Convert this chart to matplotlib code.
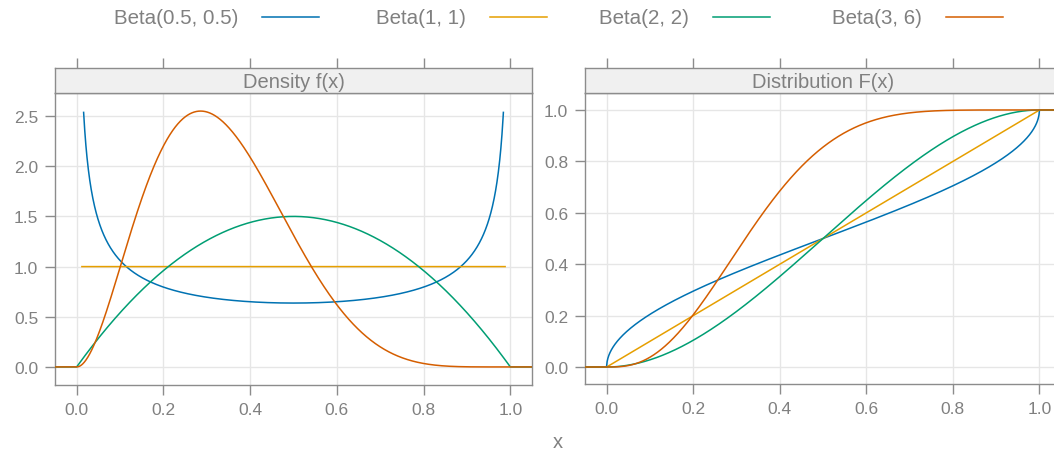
import math
import numpy as np
import matplotlib
matplotlib.use("Agg")
import matplotlib.pyplot as plt
from matplotlib.lines import Line2D
from matplotlib.ticker import FormatStrFormatter

# Beta distribution parameters and labels
labels = ["Beta(0.5, 0.5)", "Beta(1, 1)", "Beta(2, 2)", "Beta(3, 6)"]
alpha = [0.5, 1, 2, 3]
beta = [0.5, 1, 2, 6]
colors = ["#0072B2", "#E69F00", "#009E73", "#D55E00"]

# x-range over which each density curve is drawn
density_from = [0.016, 0.012, -0.05, -0.05]
density_to = [0.984, 0.988, 1.05, 1.05]
cdf_from = -0.05
cdf_to = 1.05

panel_titles = ["Density f(x)", "Distribution F(x)"]
x_ticks = [0.0, 0.2, 0.4, 0.6, 0.8, 1.0]
density_ticks = [0.0, 0.5, 1.0, 1.5, 2.0, 2.5]
cdf_ticks = [0.0, 0.2, 0.4, 0.6, 0.8, 1.0]

GRAY = "#808080"
FRAME = "#8c8c8c"
GRID = "#e6e6e6"
STRIP = "#f0f0f0"
plt.rcParams["font.family"] = ["Liberation Sans", "DejaVu Sans"]


def beta_fn(a, b):
    return math.gamma(a) * math.gamma(b) / math.gamma(a + b)


def beta_pdf(x, a, b):
    out = np.zeros_like(x)
    inside = (x > 0) & (x < 1)
    xi = x[inside]
    out[inside] = xi ** (a - 1) * (1 - xi) ** (b - 1) / beta_fn(a, b)
    if a == 1 and b == 1:
        out[(x >= 0) & (x <= 1)] = 1.0
    return out


def beta_cdf(x, a, b):
    # integrate with x = sin^2(t) to remove endpoint singularities
    t = np.linspace(0, np.pi / 2, 40001)
    s, c = np.sin(t), np.cos(t)
    f = 2 * s ** (2 * a - 1) * c ** (2 * b - 1) / beta_fn(a, b)
    cum = np.concatenate([[0], np.cumsum((f[1:] + f[:-1]) / 2 * np.diff(t))])
    cum /= cum[-1]
    return np.interp(np.clip(x, 0, 1), s ** 2, cum)


W, H = 1054, 456
fig = plt.figure(figsize=(W / 100, H / 100), dpi=100)


def px_axes(x0, y0, x1, y1):
    return fig.add_axes([x0 / W, 1 - y1 / H, (x1 - x0) / W, (y1 - y0) / H])


def style_panel(ax, strip, title, yticks, ylim):
    ax.set_xlim(-0.05, 1.05)
    ax.set_ylim(*ylim)
    ax.set_xticks(x_ticks)
    ax.set_yticks(yticks)
    ax.xaxis.set_major_formatter(FormatStrFormatter("%.1f"))
    ax.yaxis.set_major_formatter(FormatStrFormatter("%.1f"))
    ax.grid(True, color=GRID, lw=1.0, zorder=0)
    ax.set_axisbelow(True)
    for sp in ax.spines.values():
        sp.set_color(FRAME)
        sp.set_linewidth(1.0)
    ax.tick_params(axis="both", direction="out", length=7, width=1.0,
                   color=FRAME, labelcolor=GRAY, labelsize=12.5, pad=5)

    strip.set_xlim(-0.05, 1.05)
    strip.set_ylim(0, 1)
    strip.set_facecolor(STRIP)
    strip.set_yticks([])
    strip.set_xticks(x_ticks)
    strip.xaxis.tick_top()
    strip.tick_params(axis="x", direction="out", length=7, width=1.0,
                      color=FRAME, labeltop=False, labelbottom=False)
    for sp in strip.spines.values():
        sp.set_color(FRAME)
        sp.set_linewidth(1.0)
    strip.text(0.5, 0.48, title, transform=strip.transAxes, ha="center",
               va="center", color=GRAY, fontsize=14.5)


# Density panel
ax1 = px_axes(55, 94, 532, 386)
st1 = px_axes(55, 69, 532, 94)
for a, b, c, lo, hi in zip(alpha, beta, colors, density_from, density_to):
    xs = np.linspace(lo, hi, 1500)
    ax1.plot(xs, beta_pdf(xs, a, b), color=c, lw=1.1, zorder=3)
style_panel(ax1, st1, panel_titles[0], density_ticks, (-0.18, 2.73))

# Distribution panel
ax2 = px_axes(585, 94, 1061, 385)
st2 = px_axes(585, 69, 1061, 94)
xs = np.linspace(cdf_from, cdf_to, 2000)
for a, b, c in zip(alpha, beta, colors):
    ax2.plot(xs, beta_cdf(xs, a, b), color=c, lw=1.1, zorder=3)
style_panel(ax2, st2, panel_titles[1], cdf_ticks, (-0.066, 1.066))

# Shared x label
fig.text(558 / W, 1 - 443 / H, "x", ha="center", va="center",
         color=GRAY, fontsize=14.5)

# Legend across the top
line_start = [262, 490, 713, 946]
for lab, c, xs0 in zip(labels, colors, line_start):
    y = 1 - 18 / H
    fig.text((xs0 - 24) / W, y, lab, ha="right", va="center",
             color=GRAY, fontsize=14.8)
    fig.add_artist(Line2D([xs0 / W, (xs0 + 57) / W], [y, y], color=c,
                          lw=1.1, transform=fig.transFigure))

fig.savefig("out.png", dpi=100)
